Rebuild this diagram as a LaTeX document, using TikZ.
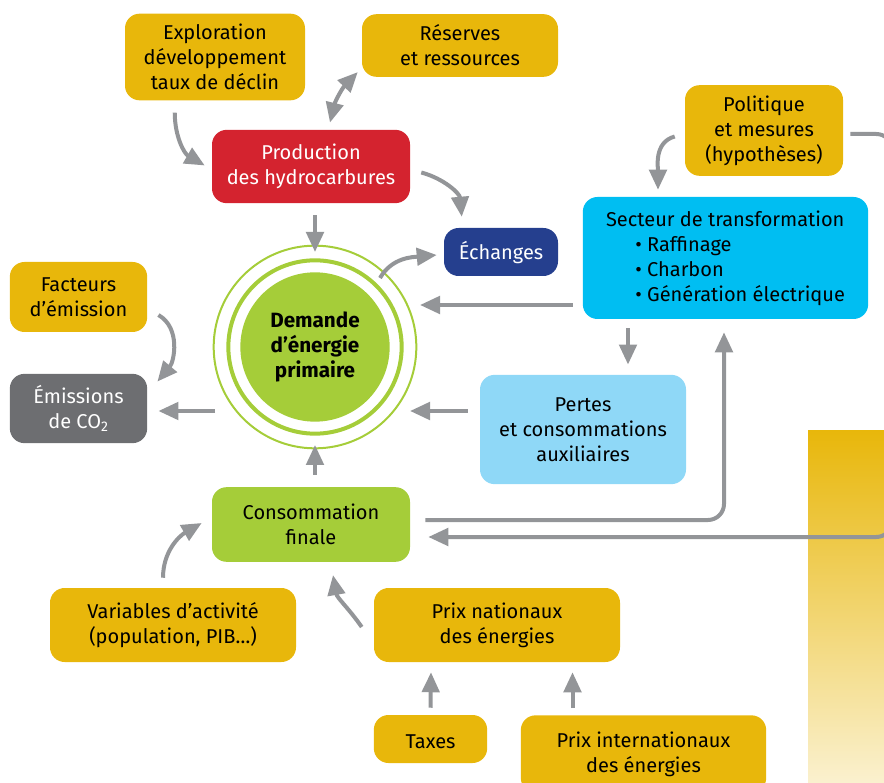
\documentclass[tikz,border=0pt]{standalone}
\usepackage{fontspec}
\setmainfont{Fira Sans}
\usetikzlibrary{arrows.meta}
\definecolor{ieayellow}{RGB}{232,183,11}
\definecolor{ieared}{RGB}{212,35,47}
\definecolor{ieanavy}{RGB}{37,63,142}
\definecolor{ieacyan}{RGB}{0,190,242}
\definecolor{iealightblue}{RGB}{143,216,247}
\definecolor{ieagreen}{RGB}{165,205,57}
\definecolor{ieagrey}{RGB}{109,110,113}
\definecolor{arrowgrey}{RGB}{147,149,152}
\tikzstyle{box} = [rectangle, rounded corners=11pt, align=center, inner sep=2pt, font=\fontsize{15}{18.75}\selectfont, execute at begin node={\rule{0pt}{14.5pt}}]
\tikzstyle{yellowbox} = [box, fill=ieayellow, text=black]
\tikzstyle{redbox} = [box, fill=ieared, text=white]
\tikzstyle{navybox} = [box, fill=ieanavy, text=white]
\tikzstyle{cyanbox} = [box, fill=ieacyan, text=black]
\tikzstyle{lightbox} = [box, fill=iealightblue, text=black]
\tikzstyle{greenbox} = [box, fill=ieagreen, text=black]
\tikzstyle{greybox} = [box, fill=ieagrey, text=white]
\tikzstyle{arr} = [->, line width=3pt, draw=arrowgrey]

\begin{document}
\begin{tikzpicture}[x=0.75pt, y=0.75pt, >={Triangle[width=13pt,length=15pt]}]

\clip (0,0) rectangle (884,782);
\shade[top color=ieayellow, bottom color=ieayellow!20] (808,0) rectangle (884,351);

\node (expl) [yellowbox, minimum width=135pt, minimum height=65pt] at (215,725) {Exploration\\développement\\taux de déclin};

\node (reserv) [yellowbox, minimum width=147pt, minimum height=47pt] at (460,736.5) {Réserves\\et ressources};

\node (prod) [redbox, minimum width=148.5pt, minimum height=55pt] at (311,615.5) {Production\\des hydrocarbures};
\draw[arr] ([shift={(50,-12)}]expl.south west) to[out=-90,in=150] ([shift={(-7,1)}]prod.west);
\draw[arr,<->] ([shift={(19,7)}]prod.north) to[bend left=15] ([shift={(-4,5)}]reserv.south west);

\node (echang) [navybox, minimum width=85.5pt, minimum height=36pt] at (501,530) {Échanges};
\draw[arr] ([shift={(11,-6)}]prod.east) to[out=-15,in=95] ([shift={(18,11)}]echang.north west);

\node (polit) [yellowbox, minimum width=118.5pt, minimum height=68pt] at (764,651.5) {Politique\\et mesures\\(hypothèses)};

\node (secteur) [cyanbox, align=left, minimum width=214pt, minimum height=91.5pt] at (725.5,524) {Secteur de transformation\\\hspace*{22pt}• Raffinage\\\hspace*{22pt}• Charbon\\\hspace*{22pt}• Génération électrique};
\draw[arr] ([shift={(-10,-6)}]polit.west) to[out=195,in=90] ([shift={(-67.5,7)}]secteur.north);

\node (demande) [circle, fill=ieagreen, minimum size=112pt, align=center, font=\fontsize{15.5}{19}\selectfont\bfseries, execute at begin node={\rule{0pt}{15pt}}] at (315,435) {Demande\\d’énergie\\primaire};
\draw[ieagreen, line width=3pt] (demande.center) circle [radius=65pt];
\draw[ieagreen, line width=1.5pt] (demande.center) circle [radius=76pt];
\draw[arr] ([shift={(4,-12)}]prod.south) -- ([shift={(0,95)}]demande.center);
\draw[arr] ([shift={(65,69)}]demande.center) to[out=60,in=185] ([shift={(-7,-3)}]echang.west);
\draw[arr] ([shift={(-10,-47)}]secteur.west) -- ([shift={(105,42)}]demande.center);

\node (factem) [yellowbox, minimum width=103pt, minimum height=52.5pt] at (78.5,485) {Facteurs\\d’émission};

\node (emis) [greybox, minimum width=103pt, minimum height=52pt] at (78.5,373.5) {Émissions\\de CO\textsubscript{2}};
\draw[arr] ([shift={(11,-18)}]factem.east) to[out=-30,in=50] ([shift={(10,-8)}]emis.north east);
\draw[arr] ([shift={(-100,-64)}]demande.center) -- ([shift={(11,-2.5)}]emis.east);

\node (pertes) [lightbox, minimum width=154.5pt, minimum height=82pt] at (583,352.5) {Pertes\\et consommations\\auxiliaires};
\draw[arr] ([shift={(-97.5,-9)}]secteur.south) -- ([shift={(45,10)}]pertes.north);
\draw[arr] ([shift={(-12,18.5)}]pertes.west) -- ([shift={(95,-64)}]demande.center);

\node (consfin) [greenbox, minimum width=148.5pt, minimum height=56pt] at (311,257.5) {Consommation\\finale};
\draw[arr] ([shift={(4,12)}]consfin.north) -- ([shift={(0,-98)}]demande.center);
\draw[arr, rounded corners=12pt] ([shift={(15,4.5)}]consfin.east) -| ([shift={(-1.5,-13)}]secteur.south);
\draw[arr, rounded corners=12pt] ([shift={(7,-3.5)}]polit.east) -- ++(42,0) |- ([shift={(18,-12.5)}]consfin.east);

\node (varact) [yellowbox, minimum width=184.5pt, minimum height=55.5pt] at (173,157) {Variables d’activité\\(population, PIB…)};
\draw[arr] ([shift={(-10,10)}]varact.north) to[out=90,in=210] ([shift={(-10,1.5)}]consfin.west);

\node (prixnat) [yellowbox, minimum width=184.5pt, minimum height=55.5pt] at (497,157) {Prix nationaux\\des énergies};
\draw[arr] ([shift={(-12,-2)}]prixnat.west) to[out=125,in=-80] ([shift={(22,-13)}]consfin.south);

\node (taxes) [yellowbox, minimum width=85pt, minimum height=36pt] at (430.5,43) {Taxes};
\draw[arr] ([shift={(0,7)}]taxes.north) -- ([shift={(-66,-10)}]prixnat.south);

\node (prixint) [yellowbox, minimum width=184pt, minimum height=58pt] at (643.5,28) {Prix internationaux\\des énergies};
\draw[arr] ([shift={(-71,7)}]prixint.north) -- ([shift={(75.5,-10)}]prixnat.south);

\end{tikzpicture}
\end{document}
